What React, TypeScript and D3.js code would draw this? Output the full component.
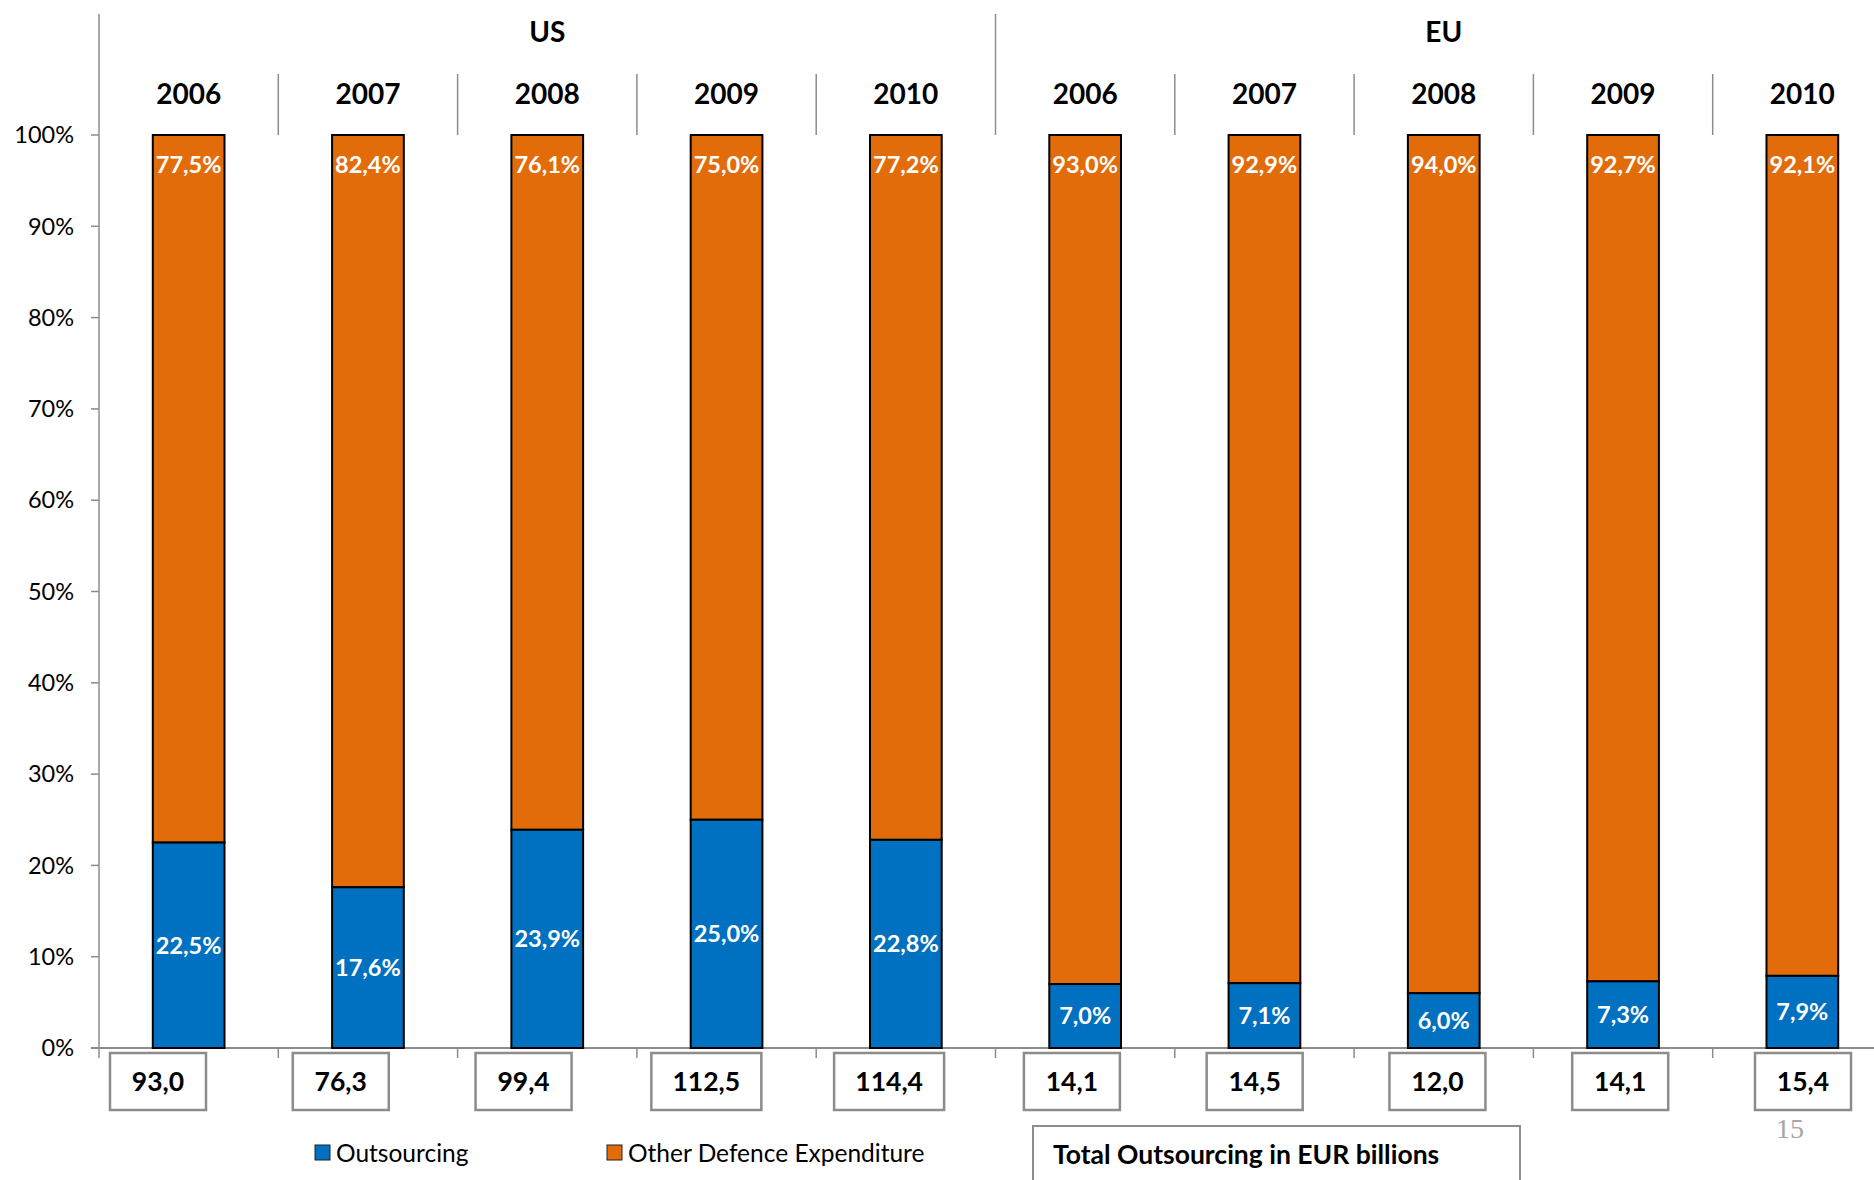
import React from "react";
import * as d3 from "d3";

const groups = ["US", "EU"];
const years = ["2006", "2007", "2008", "2009", "2010"];
const outsourcing = [22.5, 17.6, 23.9, 25.0, 22.8, 7.0, 7.1, 6.0, 7.3, 7.9];
const otherDefence = [77.5, 82.4, 76.1, 75.0, 77.2, 93.0, 92.9, 94.0, 92.7, 92.1];
const totals = [93.0, 76.3, 99.4, 112.5, 114.4, 14.1, 14.5, 12.0, 14.1, 15.4];
const yTicks = [0, 10, 20, 30, 40, 50, 60, 70, 80, 90, 100];
const seriesNames = ["Outsourcing", "Other Defence Expenditure"];

const W = 1874;
const H = 1180;
const BLUE = "#0070C0";
const ORANGE = "#E36C0A";
const AXIS = "#8c8c8c";
const FONT = "Lato, 'Open Sans', sans-serif";

const fmt = (v: number) => v.toFixed(1).replace(".", ",");

export default function App() {
  const cats = groups.flatMap((g) => years.map((y) => `${g}-${y}`));
  const left = 99;
  const band = 179.3;
  const x = d3.scaleBand<string>().domain(cats).range([left, left + band * cats.length]).padding(0);
  const y = d3.scaleLinear().domain([0, 100]).range([1048, 135]);
  const bw = x.bandwidth() * 0.4;
  const boxX = d3.scaleLinear().domain([0, cats.length - 1]).range([158, 1803]);

  const top0 = 14;
  const yearTop = 74;
  const baseY = y(0);

  return (
    <div style={{ position: "absolute", left: 0, top: 0 }}>
      <svg width={W} height={H} style={{ display: "block", background: "#fff" }} fontFamily={FONT}>
        {/* left axis */}
        <line x1={left} x2={left} y1={top0} y2={baseY + 10} stroke={AXIS} strokeWidth={1.5} />
        {/* baseline */}
        <line x1={left - 8} x2={W} y1={baseY} y2={baseY} stroke={AXIS} strokeWidth={2} />
        {/* y ticks */}
        {yTicks.map((t) => (
          <g key={t}>
            <line x1={left - 8} x2={left} y1={y(t)} y2={y(t)} stroke={AXIS} strokeWidth={1.5} />
            <text x={left - 25} y={y(t)} dy="0.35em" textAnchor="end" fontSize={23.5} fill="#000">
              {t}%
            </text>
          </g>
        ))}
        {/* category separators top and bottom ticks */}
        {cats.map((c, i) => {
          if (i === 0) return null;
          const xx = x(c)!;
          const isGroup = i % years.length === 0;
          return (
            <g key={"sep" + c}>
              <line x1={xx} x2={xx} y1={isGroup ? top0 : yearTop} y2={y(100)} stroke={AXIS} strokeWidth={1.5} />
              <line x1={xx} x2={xx} y1={baseY} y2={baseY + 10} stroke={AXIS} strokeWidth={1.5} />
            </g>
          );
        })}
        {/* group labels */}
        {groups.map((g, gi) => {
          const x0 = x(cats[gi * years.length])!;
          const x1 = x(cats[gi * years.length + years.length - 1])! + x.bandwidth();
          return (
            <text key={g} x={(x0 + x1) / 2} y={32} dy="0.35em" textAnchor="middle" fontSize={28} fontWeight="bold">
              {g}
            </text>
          );
        })}
        {/* year labels */}
        {cats.map((c, i) => (
          <text key={"yr" + c} x={x(c)! + x.bandwidth() / 2} y={94} dy="0.35em" textAnchor="middle" fontSize={28} fontWeight="bold">
            {years[i % years.length]}
          </text>
        ))}
        {/* bars */}
        {cats.map((c, i) => {
          const cx = x(c)! + x.bandwidth() / 2;
          const o = outsourcing[i];
          const od = otherDefence[i];
          return (
            <g key={"bar" + c}>
              <rect x={cx - bw / 2} y={y(o + od)} width={bw} height={y(o) - y(o + od)} fill={ORANGE} stroke="#000" strokeWidth={2} />
              <rect x={cx - bw / 2} y={y(o)} width={bw} height={y(0) - y(o)} fill={BLUE} stroke="#000" strokeWidth={2} />
              <text x={cx} y={y(o + od) + 30} dy="0.35em" textAnchor="middle" fontSize={23.5} fontWeight="bold" fill="#fff">
                {fmt(od)}%
              </text>
              <text x={cx} y={y(o / 2)} dy="0.35em" textAnchor="middle" fontSize={23.5} fontWeight="bold" fill="#fff">
                {fmt(o)}%
              </text>
            </g>
          );
        })}
        {/* total boxes */}
        {totals.map((t, i) => {
          const label = fmt(t);
          const w = 40 + 14 * label.length;
          const cx = boxX(i);
          return (
            <g key={"tot" + i}>
              <rect x={cx - w / 2} y={1053} width={w} height={57} fill="#fff" stroke="#8c8c8c" strokeWidth={2.5} />
              <text x={cx} y={1082} dy="0.35em" textAnchor="middle" fontSize={26.5} fontWeight="bold">
                {label}
              </text>
            </g>
          );
        })}
        {/* legend */}
        {seriesNames.map((s, i) => {
          const lx = i === 0 ? 315 : 607;
          return (
            <g key={s}>
              <rect x={lx} y={1145} width={15} height={15} fill={i === 0 ? BLUE : ORANGE} stroke="#222" strokeWidth={1} />
              <text x={lx + 21} y={1153} dy="0.35em" fontSize={24.5}>
                {s}
              </text>
            </g>
          );
        })}
        {/* total outsourcing box */}
        <rect x={1033} y={1126} width={487} height={70} fill="#fff" stroke="#8c8c8c" strokeWidth={2} />
        <text x={1053} y={1155} dy="0.35em" fontSize={26.5} fontWeight="bold">
          Total Outsourcing in EUR billions
        </text>
        {/* page number */}
        <text x={1790} y={1128} dy="0.35em" textAnchor="middle" fontSize={28} fill="#a6a6a6" fontFamily="'Liberation Serif', 'DejaVu Serif', serif">
          15
        </text>
      </svg>
    </div>
  );
}
